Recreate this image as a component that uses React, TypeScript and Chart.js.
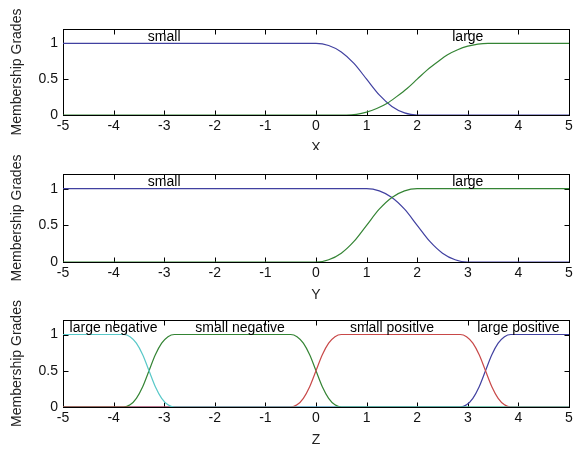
import React, { useEffect, useRef } from 'react';
import { Chart, registerables } from 'chart.js';

Chart.register(...registerables);

// ---------- shared axis data ----------
const xTicks = [-5, -4, -3, -2, -1, 0, 1, 2, 3, 4, 5];
const yTicks = [0, 0.5, 1];
const yAxisTitle = 'Membership Grades';

// ---------- panel 1 : X ----------
const xSmall_X = [-5, 0, 0.25, 0.5, 0.75, 1, 1.25, 1.5, 1.75, 2, 5];
const ySmall_X = [1, 1, 0.97, 0.88, 0.72, 0.5, 0.28, 0.12, 0.03, 0, 0];
const xLarge_X = [-5, 0.6, 0.8, 1.0, 1.2, 1.4, 1.6, 1.8, 2.0, 2.2, 2.4, 2.6, 2.8, 3.0, 3.2, 3.4, 5];
const yLarge_X = [0, 0, 0.01, 0.04, 0.09, 0.16, 0.26, 0.37, 0.5, 0.63, 0.74, 0.84, 0.91, 0.96, 0.99, 1, 1];
const names_X = ['small', 'large'];
const namePos_X = [-3, 3];

// ---------- panel 2 : Y ----------
const xSmall_Y = [-5, 1, 1.25, 1.5, 1.75, 2, 2.25, 2.5, 2.75, 3, 5];
const ySmall_Y = [1, 1, 0.97, 0.88, 0.72, 0.5, 0.28, 0.12, 0.03, 0, 0];
const xLarge_Y = [-5, 0, 0.25, 0.5, 0.75, 1, 1.25, 1.5, 1.75, 2, 5];
const yLarge_Y = [0, 0, 0.03, 0.12, 0.28, 0.5, 0.72, 0.88, 0.97, 1, 1];
const names_Y = ['small', 'large'];
const namePos_Y = [-3, 3];

// ---------- panel 3 : Z ----------
const xLargeNeg_Z = [-5, -3.8, -3.675, -3.55, -3.425, -3.3, -3.175, -3.05, -2.925, -2.8, 5];
const yLargeNeg_Z = [1, 1, 0.97, 0.88, 0.72, 0.5, 0.28, 0.12, 0.03, 0, 0];
const xSmallNeg_Z = [-5, -3.8, -3.675, -3.55, -3.425, -3.3, -3.175, -3.05, -2.925, -2.8, -0.5, -0.375, -0.25, -0.125, 0, 0.125, 0.25, 0.375, 0.5, 5];
const ySmallNeg_Z = [0, 0, 0.03, 0.12, 0.28, 0.5, 0.72, 0.88, 0.97, 1, 1, 0.97, 0.88, 0.72, 0.5, 0.28, 0.12, 0.03, 0, 0];
const xSmallPos_Z = [-5, -0.5, -0.375, -0.25, -0.125, 0, 0.125, 0.25, 0.375, 0.5, 2.85, 2.975, 3.1, 3.225, 3.35, 3.475, 3.6, 3.725, 3.85, 5];
const ySmallPos_Z = [0, 0, 0.03, 0.12, 0.28, 0.5, 0.72, 0.88, 0.97, 1, 1, 0.97, 0.88, 0.72, 0.5, 0.28, 0.12, 0.03, 0, 0];
const xLargePos_Z = [-5, 2.85, 2.975, 3.1, 3.225, 3.35, 3.475, 3.6, 3.725, 3.85, 5];
const yLargePos_Z = [0, 0, 0.03, 0.12, 0.28, 0.5, 0.72, 0.88, 0.97, 1, 1];
const names_Z = ['large negative', 'small negative', 'small positive', 'large positive'];
const namePos_Z = [-4, -1.5, 1.5, 4];

const BLUE = '#4040a0';
const GREEN = '#348434';
const RED = '#c84848';
const CYAN = '#58c8c8';

const FONT = '"Liberation Sans", Arial, Helvetica, sans-serif';

type Series = { xs: number[]; ys: number[]; color: string };
type PanelCfg = {
  title: string;
  series: Series[]; // first element drawn on top
  names: string[];
  namePos: number[];
  top: number;
  h: number;
  areaTop: number;
  areaBottom: number;
};

const W = 579;
const AREA_LEFT = 63;
const AREA_RIGHT = 569;

const panels: PanelCfg[] = [
  {
    title: 'X',
    series: [
      { xs: xLarge_X, ys: yLarge_X, color: GREEN },
      { xs: xSmall_X, ys: ySmall_X, color: BLUE },
    ],
    names: names_X,
    namePos: namePos_X,
    top: 0,
    h: 150,
    areaTop: 29,
    areaBottom: 115,
  },
  {
    title: 'Y',
    series: [
      { xs: xLarge_Y, ys: yLarge_Y, color: GREEN },
      { xs: xSmall_Y, ys: ySmall_Y, color: BLUE },
    ],
    names: names_Y,
    namePos: namePos_Y,
    top: 150,
    h: 150,
    areaTop: 24,
    areaBottom: 112,
  },
  {
    title: 'Z',
    series: [
      { xs: xLargeNeg_Z, ys: yLargeNeg_Z, color: CYAN },
      { xs: xSmallPos_Z, ys: ySmallPos_Z, color: RED },
      { xs: xSmallNeg_Z, ys: ySmallNeg_Z, color: GREEN },
      { xs: xLargePos_Z, ys: yLargePos_Z, color: BLUE },
    ],
    names: names_Z,
    namePos: namePos_Z,
    top: 300,
    h: 151,
    areaTop: 20,
    areaBottom: 107,
  },
];

function makeDecor(cfg: PanelCfg) {
  return {
    id: 'mfDecor',
    beforeDatasetsDraw(chart: any) {
      const { ctx, chartArea: a, scales } = chart;
      const xs = scales.x;
      const ys = scales.y;
      ctx.save();
      ctx.strokeStyle = '#000';
      ctx.lineWidth = 1;
      ctx.strokeRect(a.left + 0.5, a.top + 0.5, a.right - a.left, a.bottom - a.top);
      ctx.beginPath();
      const tl = 5;
      for (const v of xTicks) {
        const px = Math.round(xs.getPixelForValue(v)) + 0.5;
        ctx.moveTo(px, a.bottom + 0.5);
        ctx.lineTo(px, a.bottom + 0.5 - tl);
        ctx.moveTo(px, a.top + 0.5);
        ctx.lineTo(px, a.top + 0.5 + tl);
      }
      for (const v of yTicks) {
        const py = Math.round(ys.getPixelForValue(v)) + 0.5;
        ctx.moveTo(a.left + 0.5, py);
        ctx.lineTo(a.left + 0.5 + tl, py);
        ctx.moveTo(a.right + 0.5, py);
        ctx.lineTo(a.right + 0.5 - tl, py);
      }
      ctx.stroke();
      ctx.restore();
    },
    afterDatasetsDraw(chart: any) {
      const { ctx, chartArea: a, scales } = chart;
      const xs = scales.x;
      ctx.save();
      ctx.fillStyle = '#000';
      ctx.font = `14px ${FONT}`;
      ctx.textAlign = 'center';
      ctx.textBaseline = 'alphabetic';
      cfg.names.forEach((n, i) => {
        ctx.fillText(n, xs.getPixelForValue(cfg.namePos[i]), a.top + 12);
      });
      // x axis title
      ctx.fillStyle = '#222';
      ctx.textBaseline = 'middle';
      ctx.fillText(cfg.title, (a.left + a.right) / 2, a.bottom + 33);
      // y axis title
      ctx.translate(21, (a.top + a.bottom) / 2);
      ctx.rotate(-Math.PI / 2);
      ctx.textBaseline = 'alphabetic';
      ctx.fillText(yAxisTitle, 0, 0);
      ctx.restore();
    },
  };
}

function Panel({ cfg }: { cfg: PanelCfg }) {
  const ref = useRef<HTMLCanvasElement>(null);
  useEffect(() => {
    const canvas = ref.current;
    if (!canvas) return;
    const chart = new Chart(canvas, {
      type: 'line',
      data: {
        datasets: cfg.series.map((s) => ({
          data: s.xs.map((x, i) => ({ x, y: s.ys[i] })),
          borderColor: s.color,
          borderWidth: 1.2,
          pointRadius: 0,
          cubicInterpolationMode: 'monotone',
          fill: false,
        })),
      },
      options: {
        animation: false,
        responsive: false,
        events: [],
        layout: {
          padding: { left: 0, right: W - AREA_RIGHT, top: cfg.areaTop, bottom: 0 },
        },
        plugins: {
          legend: { display: false },
          tooltip: { enabled: false },
        },
        scales: {
          x: {
            type: 'linear',
            min: -5,
            max: 5,
            afterBuildTicks: (s: any) => {
              s.ticks = xTicks.map((v) => ({ value: v }));
            },
            afterFit: (s: any) => {
              s.height = cfg.h - cfg.areaBottom;
            },
            grid: { display: false, drawTicks: false },
            border: { display: false },
            ticks: {
              padding: 3,
              color: '#111',
              autoSkip: false,
              maxRotation: 0,
              font: { family: FONT, size: 14 },
              callback: (v: any) => String(v),
            },
          },
          y: {
            type: 'linear',
            min: 0,
            max: 1.2,
            afterBuildTicks: (s: any) => {
              s.ticks = yTicks.map((v) => ({ value: v }));
            },
            afterFit: (s: any) => {
              s.width = AREA_LEFT;
            },
            grid: { display: false, drawTicks: false },
            border: { display: false },
            ticks: {
              padding: 5,
              color: '#111',
              font: { family: FONT, size: 14 },
              callback: (v: any) => String(v),
            },
          },
        },
      } as any,
      plugins: [makeDecor(cfg)],
    });
    return () => chart.destroy();
  }, [cfg]);
  return (
    <canvas
      ref={ref}
      width={W}
      height={cfg.h}
      style={{ position: 'absolute', left: 0, top: cfg.top, width: W, height: cfg.h }}
    />
  );
}

export default function App() {
  return (
    <div
      style={{
        position: 'fixed',
        left: 0,
        top: 0,
        width: W,
        height: 451,
        background: '#fff',
        overflow: 'hidden',
      }}
    >
      {panels.map((p, i) => (
        <Panel key={i} cfg={p} />
      ))}
    </div>
  );
}
